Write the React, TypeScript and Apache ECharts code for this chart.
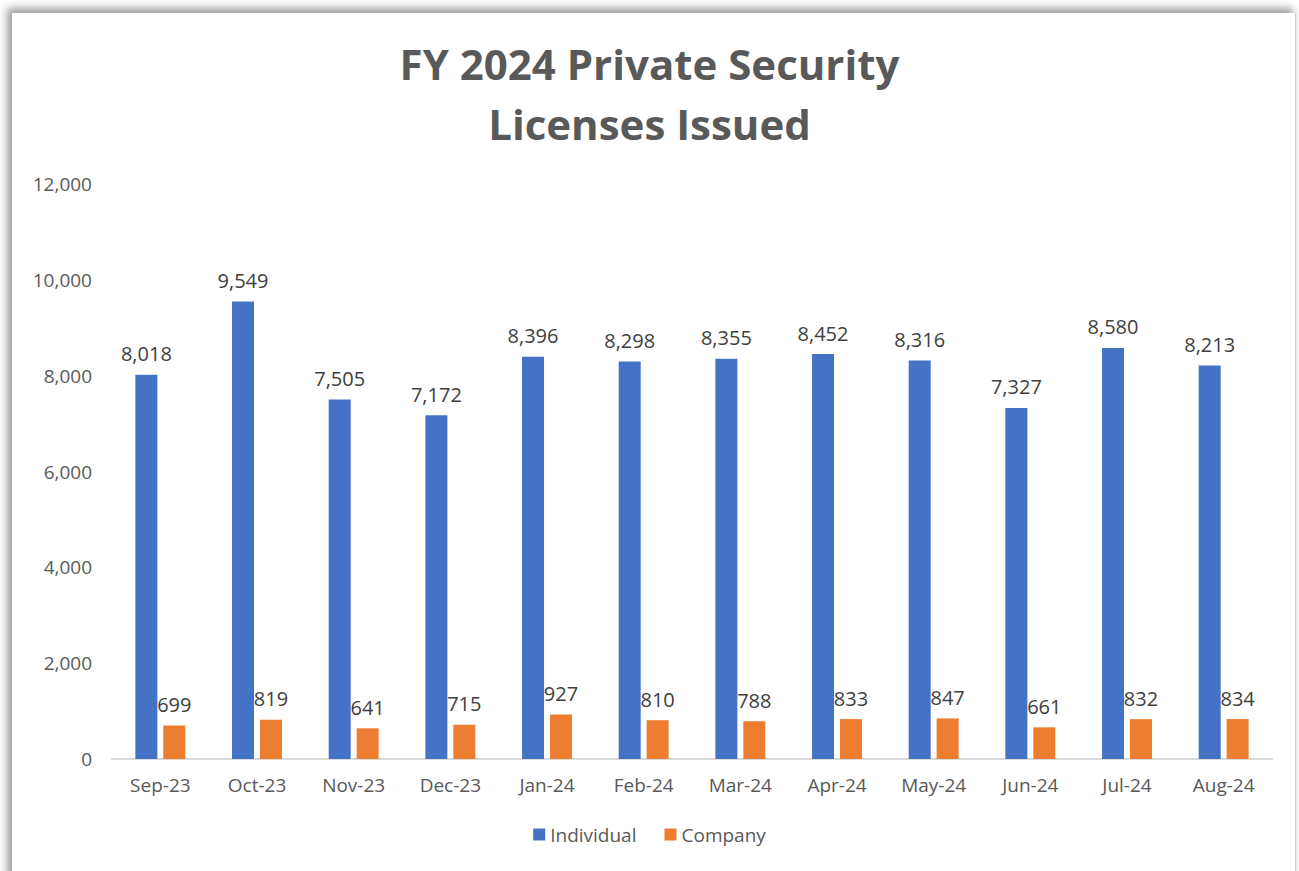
import React, { useEffect, useRef } from "react";
import * as echarts from "echarts";

const categories = ["Sep-23", "Oct-23", "Nov-23", "Dec-23", "Jan-24", "Feb-24", "Mar-24", "Apr-24", "May-24", "Jun-24", "Jul-24", "Aug-24"];
const individual = [8018, 9549, 7505, 7172, 8396, 8298, 8355, 8452, 8316, 7327, 8580, 8213];
const company = [699, 819, 641, 715, 927, 810, 788, 833, 847, 661, 832, 834];
const titleLines = ["FY 2024 Private Security", "Licenses Issued"];

const FONT = "'Open Sans', 'Noto Sans', sans-serif";

export default function App() {
  const ref = useRef<HTMLDivElement>(null);
  useEffect(() => {
    if (!ref.current) return;
    const chart = echarts.init(ref.current, null, { renderer: "svg" });
    const fmt = (v: number) => v.toLocaleString("en-US");
    chart.setOption({
      animation: false,
      textStyle: { fontFamily: FONT },
      title: {
        text: titleLines.join("\n"),
        left: "center",
        top: 28,
        textStyle: { fontFamily: FONT, fontSize: 42, fontWeight: "bold", color: "#595959", lineHeight: 60 },
      },
      grid: { left: 112, right: 27, top: 184, bottom: 112, containLabel: false },
      legend: {
        bottom: 22,
        left: "center",
        itemWidth: 12,
        itemHeight: 12,
        itemGap: 28,
        icon: "rect",
        textStyle: { fontFamily: FONT, fontSize: 19, color: "#595959" },
        data: ["Individual", "Company"],
      },
      xAxis: {
        type: "category",
        data: categories,
        axisLine: { lineStyle: { color: "#d9d9d9", width: 2 } },
        axisTick: { show: false },
        axisLabel: { fontFamily: FONT, fontSize: 19, color: "#595959", margin: 16 },
      },
      yAxis: {
        type: "value",
        min: 0,
        max: 12000,
        interval: 2000,
        splitLine: { show: false },
        axisLine: { show: false },
        axisTick: { show: false },
        axisLabel: { fontFamily: FONT, fontSize: 19, color: "#595959", margin: 20, formatter: (v: number) => fmt(v) },
      },
      series: [
        {
          name: "Individual",
          type: "bar",
          data: individual,
          barWidth: 22,
          barGap: "27%",
          itemStyle: { color: "#4472c4" },
          label: { show: true, position: "top", distance: 11, fontFamily: FONT, fontSize: 20, color: "#404040", formatter: (p: any) => fmt(p.value) },
        },
        {
          name: "Company",
          type: "bar",
          data: company,
          barWidth: 22,
          itemStyle: { color: "#ed7d31" },
          label: { show: true, position: "top", distance: 11, fontFamily: FONT, fontSize: 20, color: "#404040", formatter: (p: any) => fmt(p.value) },
        },
      ],
    });
    return () => chart.dispose();
  }, []);
  return (
    <div style={{ position: "fixed", left: 0, top: 0, width: 1299, height: 871, background: "#fff", overflow: "hidden" }}>
      <div
        style={{
          position: "absolute",
          left: 12,
          top: 13,
          width: 1283,
          height: 880,
          background: "#fff",
          boxShadow: "-4px -4px 8px 1px rgba(0,0,0,0.38)",
          borderRight: "1px solid #cfcfcf",
        }}
      />
      <div ref={ref} style={{ position: "absolute", left: 0, top: 0, width: 1299, height: 871 }} />
    </div>
  );
}
